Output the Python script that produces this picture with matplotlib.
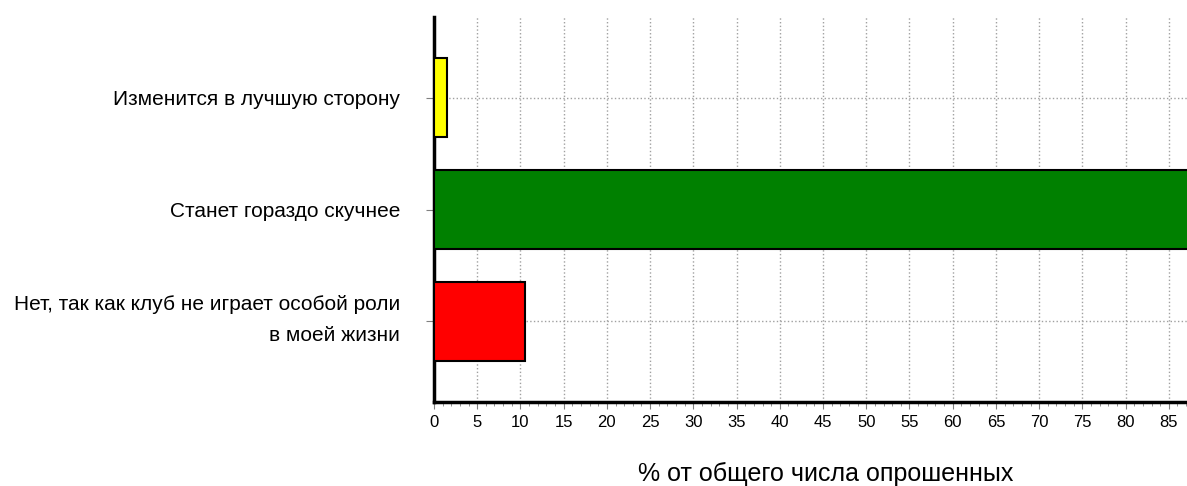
import matplotlib.pyplot as plt
import matplotlib.transforms as mtransforms
import numpy as np

plt.rcParams['font.family'] = ['Liberation Sans', 'DejaVu Sans']

categories = ['Нет, так как клуб не играет особой роли\nв моей жизни',
              'Станет гораздо скучнее',
              'Изменится в лучшую сторону']
values = [10.5, 88.0, 1.5]
colors = ['#ff0000', '#008000', '#ffff00']

fig = plt.figure(figsize=(11.87, 4.86), dpi=100)
ax = fig.add_axes([0.3656, 0.1728, 0.6344, 0.7922])

y = np.arange(len(categories))
ax.barh(y, values, height=0.71, color=colors, edgecolor='black', linewidth=1.5, zorder=3)

ax.set_xlim(0, 87.1)
ax.set_ylim(-0.72, 2.72)
ax.set_xticks(np.arange(0, 86, 5))
ax.set_xticks(np.arange(0, 88, 1), minor=True)
ax.set_yticks(y)
ax.set_yticklabels(categories, fontsize=15, linespacing=1.75)
ax.tick_params(axis='x', labelsize=12, colors='#808080', labelcolor='black', length=5, pad=4)
ax.tick_params(axis='x', which='minor', colors='#808080', length=3)
ax.tick_params(axis='y', colors='#808080', labelcolor='black', length=6, pad=18.5)

# lift the two-line label a little, as in the original
lbl = ax.get_yticklabels()[0]
lbl.set_transform(lbl.get_transform() + mtransforms.ScaledTranslation(0, 0.09, fig.dpi_scale_trans))

ax.grid(True, color='#a0a0a0', linestyle=':', linewidth=1, zorder=0)
ax.set_axisbelow(True)

for s in ['top', 'right']:
    ax.spines[s].set_visible(False)
for s in ['left', 'bottom']:
    ax.spines[s].set_linewidth(2.5)
    ax.spines[s].set_color('black')

ax.set_xlabel('% от общего числа опрошенных', fontsize=18)
ax.xaxis.set_label_coords(0.52, -0.155)

fig.savefig('out.png', dpi=100)
